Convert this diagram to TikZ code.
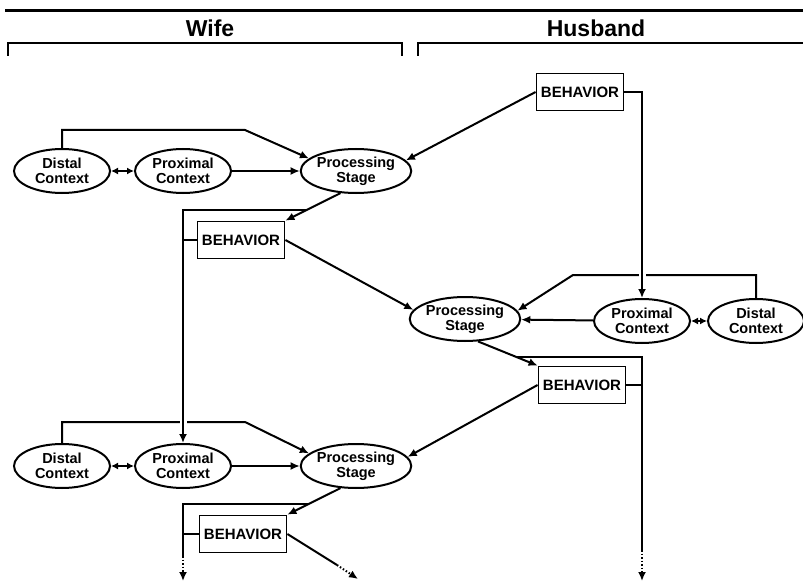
\documentclass[tikz,border=0pt]{standalone}
\usepackage{fontspec}
\setmainfont{Liberation Sans}
\usetikzlibrary{arrows.meta,positioning,shapes.geometric,calc}
\tikzset{
  ctx/.style    ={draw,ellipse,line width=2pt,align=center,inner sep=0pt,minimum width=96pt,minimum height=44pt,
                  font=\fontsize{14.5}{15}\selectfont\bfseries},
  behav/.style  ={draw,line width=1.8pt,inner sep=0pt,minimum width=87pt,minimum height=37pt,
                  font=\fontsize{15}{15}\selectfont\bfseries},
  side/.style   ={font=\fontsize{23}{24}\selectfont\bfseries},
  link/.style   ={line width=2pt},
  arrow/.style  ={-{Latex[length=9pt,width=8pt]},line width=2pt},
  twoway/.style ={{Latex[length=7pt,width=7pt]}-{Latex[length=7pt,width=7pt]},line width=2pt},
  fade/.style   ={-{Latex[length=9pt,width=8pt]},line width=2pt,dash pattern=on 1.5pt off 2pt},
  cross/.style  ={preaction={draw=white,line width=7pt,arrows=-}}
}
\begin{document}
\begin{tikzpicture}[x=1pt,y=-1pt]
  \useasboundingbox (0,0) rectangle (803,583);
  % header
  \draw[line width=3pt] (5,11) -- (803,11);
  \node[side] (wife)    at (210,28) {Wife};
  \node[side] (husband) at (596,28) {Husband};
  \draw[link] (8,56) |- (402,43) -- (402,56);
  \draw[link] (418,56) |- (803,43);

  % wife, first round
  \node[ctx]  (distalW1) at (62,171)  {Distal\\Context};
  \node[ctx]  (proxW1)   at (183,171) {Proximal\\Context};
  \node[ctx]  (procW1)   at (356,171) {Processing\\Stage};
  \node[behav] (behW1)   at (241,240) {BEHAVIOR};
  % husband
  \node[behav] (behH1)   at (580,92)  {BEHAVIOR};
  \node[ctx]  (procH2)   at (465,319) {Processing\\Stage};
  \node[ctx]  (proxH2)   at (642,321) {Proximal\\Context};
  \node[ctx]  (distalH2) at (756,321) {Distal\\Context};
  \node[behav] (behH2)   at (582,385) {BEHAVIOR};
  % wife, second round
  \node[ctx]  (distalW3) at (62,466)  {Distal\\Context};
  \node[ctx]  (proxW3)   at (183,466) {Proximal\\Context};
  \node[ctx]  (procW3)   at (356,466) {Processing\\Stage};
  \node[behav] (behW3)   at (243,534) {BEHAVIOR};

  \coordinate (bendW1) at (245,130);
  \coordinate (bendH2) at (573,275);
  \coordinate (bendW3) at (245,422);
  \coordinate (jW1) at ($(procW1.235)!0.6!(behW1.north east)$);
  \coordinate (jH2) at ($(procH2.-60)!0.65!(behH2.north west)$);
  \coordinate (jW3) at ($(procW3.235)!0.6!(behW3.north east)$);
  \coordinate (fadeH2) at (642,550);
  \coordinate (tipH2)  at (642,581);
  \coordinate (fadeW3) at (183,556);
  \coordinate (tipW3)  at (183,581);
  \coordinate (fadeOut) at (337,565);
  \coordinate (tipOut)  at (358,579);

  % context feeding the stages
  \draw[arrow] (distalW1.north) |- (bendW1) -- (procW1.165);
  \draw[arrow] (distalH2.north) |- (bendH2) -- (procH2.9);
  \draw[arrow] (distalW3.north) |- (bendW3) -- (procW3.165);
  \draw[twoway] (distalW1) -- (proxW1);
  \draw[twoway] (proxH2) -- (distalH2);
  \draw[twoway] (distalW3) -- (proxW3);
  \draw[arrow] (proxW1) -- (procW1);
  \draw[arrow] (proxH2) -- (procH2);
  \draw[arrow] (proxW3) -- (procW3);

  % behavior carried forward
  \draw[arrow,cross] (behH1.east) -| (proxH2.north);
  \draw[arrow,cross] (jW1) -| (proxW3.north);
  \draw[link] (jH2) -| (fadeH2);
  \draw[fade] (fadeH2) -- (tipH2);
  \draw[link] (jW3) -| (fadeW3);
  \draw[fade] (fadeW3) -- (tipW3);
  \draw[link] (behW1.west) -- (behW1.west -| proxW3.north);
  \draw[link] (behH2.east) -- (behH2.east -| fadeH2);
  \draw[link] (behW3.west) -- (behW3.west -| fadeW3);

  % stages to behavior
  \draw[arrow] (procW1.235) -- (behW1.north east);
  \draw[arrow] (procH2.-60) -- (behH2.north west);
  \draw[arrow] (procW3.235) -- (behW3.north east);

  % behavior to the partner
  \draw[arrow] (behH1.west) -- (procW1.12);
  \draw[arrow] (behW1.east) -- (procH2.170);
  \draw[arrow] (behH2.west) -- (procW3.10);
  \draw[link] (behW3.east) -- (fadeOut);
  \draw[fade] (fadeOut) -- (tipOut);
\end{tikzpicture}
\end{document}
